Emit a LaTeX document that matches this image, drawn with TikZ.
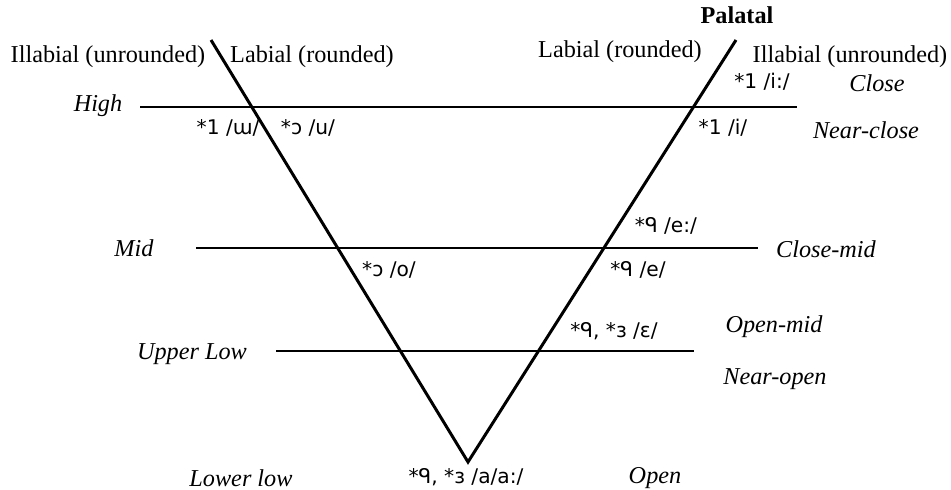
\documentclass[tikz,border=0pt]{standalone}
\usepackage{fontspec}
\setmainfont{Liberation Serif}
\newfontfamily\ipafont{DejaVu Sans}
\usetikzlibrary{positioning}
\tikzset{
  tongue/.style={line width=1.7pt},
  level/.style={line width=1pt},
  caption/.style={font=\fontsize{13.8}{16}\selectfont, inner sep=0pt},
  height/.style={font=\fontsize{13.8}{16}\selectfont\itshape, inner sep=0pt},
  vowel/.style={font=\fontsize{11.5}{14}\selectfont\ipafont, inner sep=0pt}
}

\begin{document}
\begin{tikzpicture}[x=0.02cm, y=-0.02cm]
        \useasboundingbox (0,0) rectangle (951,490);

        % ends of the V and of the height lines
        \coordinate (lefttop) at (211,40);
        \coordinate (righttop) at (736,40);
        \coordinate (apex) at (468,462);
        \coordinate (highW) at (140,107);
        \coordinate (highE) at (797,107);
        \coordinate (midW) at (196,248);
        \coordinate (midE) at (758,248);
        \coordinate (lowW) at (276,351);
        \coordinate (lowE) at (694,351);

        \draw [level] (highW) -- (highE);
        \draw [level] (midW) -- (midE);
        \draw [level] (lowW) -- (lowE);
        \draw [tongue] (lefttop) -- (apex) -- (righttop);

        % column heads
        \node (illabL) [caption] at (108,57) {Illabial (unrounded)};
        \node (labL) [caption] at (312,57) {Labial (rounded)};
        \node (palatal) [caption, font=\fontsize{13.8}{16}\selectfont\bfseries] at (737,15) {Palatal};
        \node (labR) [caption] at (620,52) {Labial (rounded)};
        \node (illabR) [caption] at (850,57) {Illabial (unrounded)};

        % heights, left and right
        \node (high) [height] at (98,106) {High};
        \node (mid) [height] at (134,248) {Mid};
        \node (upperlow) [height] at (192,354) {Upper Low};
        \node (lowerlow) [height] at (241,478) {Lower low};
        \node (close) [height] at (877,83) {Close};
        \node (nearclose) [height] at (866,130) {Near-close};
        \node (closemid) [height] at (826,249) {Close-mid};
        \node (openmid) [height] at (774,327) {Open-mid};
        \node (nearopen) [height] at (775,379) {Near-open};
        \node (open) [height] at (655,478) {Open};

        % vowels
        \node (iilong) [vowel] at (762,82) {*1 /i:/};
        \node (wL) [vowel] at (228,128) {*1 /ɯ/};
        \node (uL) [vowel] at (308,128) {*ɔ /u/};
        \node (iR) [vowel] at (723,128) {*1 /i/};
        \node (eelong) [vowel] at (666,226) {*ᑫ /e:/};
        \node (oL) [vowel] at (389,270) {*ɔ /o/};
        \node (eR) [vowel] at (638,270) {*ᑫ /e/};
        \node (epsR) [vowel] at (614,331) {*ᑫ, *ɜ /ɛ/};
        \node (aa) [vowel] at (466,477) {*ᑫ, *ɜ /a/a:/};
    \end{tikzpicture}
\end{document}
